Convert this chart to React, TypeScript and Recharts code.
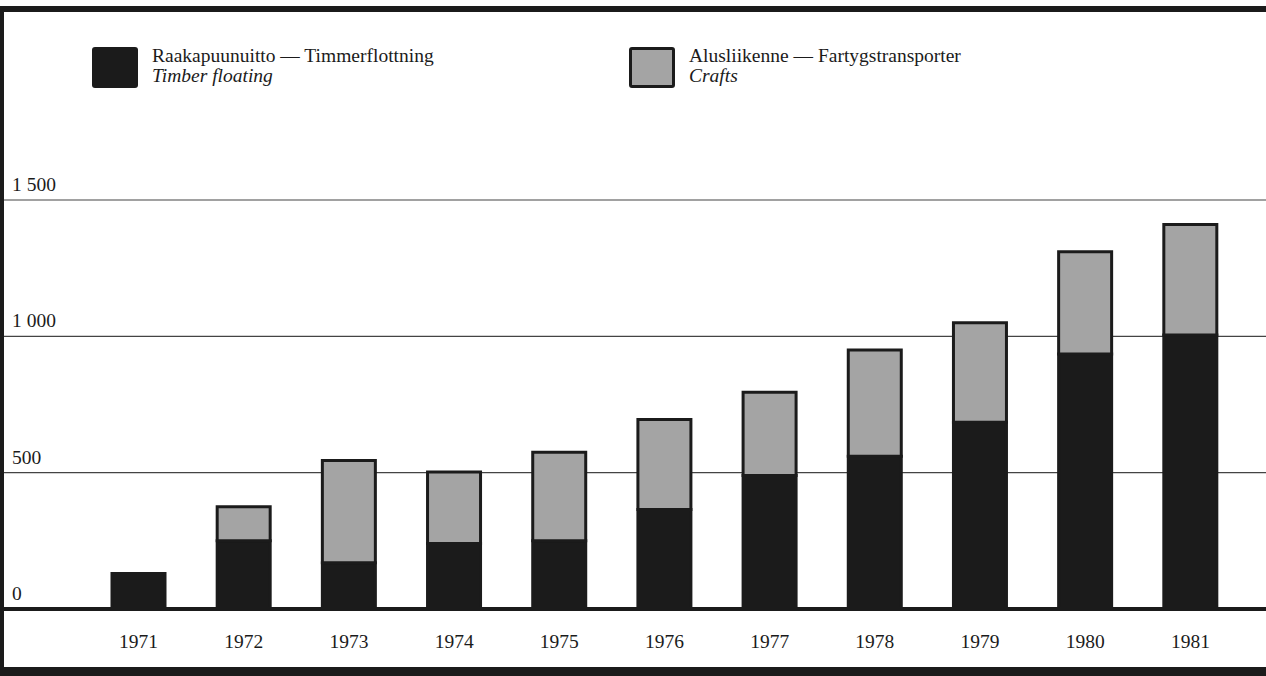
import React from 'react';
import { BarChart, Bar, XAxis, YAxis, CartesianGrid, Legend } from 'recharts';

const years = ['1971', '1972', '1973', '1974', '1975', '1976', '1977', '1978', '1979', '1980', '1981'];
const timberFloating = [130, 250, 170, 240, 250, 365, 490, 560, 685, 935, 1005];
const crafts = [0, 125, 375, 262, 325, 330, 305, 390, 365, 375, 405];
const yTicks = [0, 500, 1000, 1500];

const seriesKeys = ['timber', 'crafts'];
const seriesTitles = ['Raakapuunuitto — Timmerflottning', 'Alusliikenne — Fartygstransporter'];
const seriesSubtitles = ['Timber floating', 'Crafts'];

const INK = '#1b1b1b';
const GREY = '#a4a4a4';
const FONT = '"Liberation Serif", serif';
const FS = 19.5;

const data = years.map((year, i) => ({ year, timber: timberFloating[i], crafts: crafts[i] }));

// "1 500" style thousands separator
const fmt = (v: number) => String(v).replace(/\B(?=(\d{3})+(?!\d))/g, ' ');

const YTick = ({ y, payload }: any) => (
  <text x={12} y={y - 9} fill={INK} fontSize={FS} fontFamily={FONT}>
    {fmt(payload.value)}
  </text>
);

const legendLeft = [92, 629];

const LegendContent = ({ payload }: any) => (
  <div style={{ position: 'relative', width: 1266, height: 42 }}>
    {(payload || []).map((entry: any) => {
      const i = seriesKeys.indexOf(entry.dataKey);
      return (
        <div
          key={entry.dataKey}
          style={{ position: 'absolute', left: legendLeft[i], top: 0, display: 'flex', alignItems: 'flex-start' }}
        >
          <div
            style={{
              width: i === 0 ? 46 : 40,
              height: i === 0 ? 41 : 35,
              background: entry.color,
              border: i === 0 ? 'none' : `3px solid ${INK}`,
              borderRadius: 3,
              marginRight: 14,
            }}
          />
          <div style={{ fontFamily: FONT, fontSize: FS, lineHeight: '20px', color: INK, marginTop: -1 }}>
            <div>{seriesTitles[i]}</div>
            <div style={{ fontStyle: 'italic' }}>{seriesSubtitles[i]}</div>
          </div>
        </div>
      );
    })}
  </div>
);

export default function App() {
  return (
    <div style={{ position: 'relative', width: 1266, height: 676, background: '#fff', overflow: 'hidden' }}>
      <style>{`body{margin:0}`}</style>
      <BarChart
        width={1266}
        height={676}
        data={data}
        margin={{ top: 200, right: 0, bottom: 37, left: 0 }}
        barSize={53}
      >
        <CartesianGrid vertical={false} stroke="#444" strokeWidth={1.2} />
        <XAxis
          dataKey="year"
          height={30}
          padding={{ left: 82, right: 23 }}
          tickLine={false}
          tickSize={0}
          tickMargin={25}
          axisLine={{ stroke: INK, strokeWidth: 4 }}
          tick={{ fill: INK, fontSize: FS, fontFamily: FONT }}
          interval={0}
        />
        <YAxis
          width={4}
          domain={[0, 1500]}
          ticks={yTicks}
          interval={0}
          axisLine={false}
          tickLine={false}
          tick={<YTick />}
        />
        <Legend
          layout="horizontal"
          verticalAlign="middle"
          align="center"
          content={<LegendContent />}
          wrapperStyle={{ position: 'absolute', top: 47, left: 0, width: 1266, margin: 0 }}
        />
        <Bar dataKey="timber" stackId="a" fill={INK} stroke={INK} strokeWidth={3} isAnimationActive={false} />
        <Bar dataKey="crafts" stackId="a" fill={GREY} stroke={INK} strokeWidth={3} isAnimationActive={false} />
      </BarChart>
      <div style={{ position: 'absolute', left: 0, top: 6, width: 1266, height: 6, background: INK }} />
      <div style={{ position: 'absolute', left: 0, top: 6, width: 4, height: 670, background: INK }} />
      <div style={{ position: 'absolute', left: 0, top: 667, width: 1266, height: 9, background: INK }} />
    </div>
  );
}
